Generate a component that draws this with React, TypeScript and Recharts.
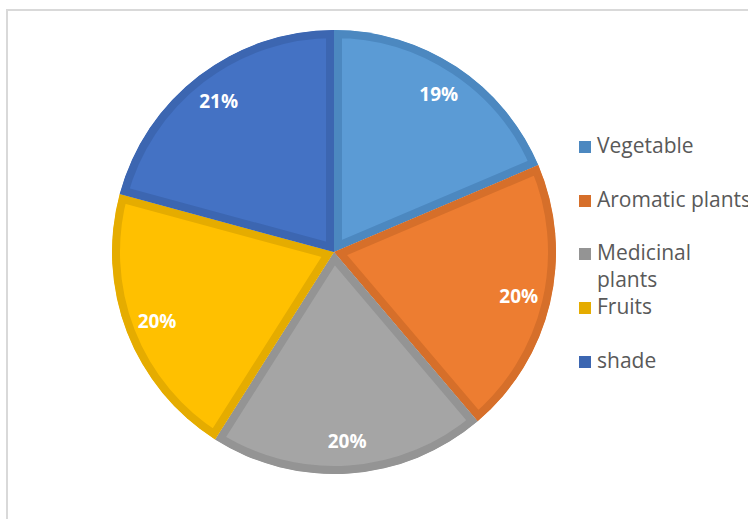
import React from 'react';
import { PieChart, Pie, Sector, Legend } from 'recharts';

const categories = ['Vegetable', 'Aromatic plants', 'Medicinal plants', 'Fruits', 'shade'];
const values = [18.6, 20.2, 20.2, 20.2, 20.8];
const fillColors = ['#5B9BD5', '#ED7D31', '#A5A5A5', '#FFC000', '#4472C4'];
const edgeColors = ['#4C88C0', '#D66F2A', '#949494', '#E5AC00', '#3C66B1'];

const data = categories.map((name, i) => ({ name, value: values[i], fill: fillColors[i], edge: edgeColors[i] }));

const RAD = Math.PI / 180;

const renderShape = (props: any) => {
  const { cx, cy, innerRadius, outerRadius, startAngle, endAngle, index } = props;
  const id = `slice-clip-${index}`;
  return (
    <g>
      <defs>
        <clipPath id={id}>
          <Sector cx={cx} cy={cy} innerRadius={innerRadius} outerRadius={outerRadius} startAngle={startAngle} endAngle={endAngle} />
        </clipPath>
      </defs>
      <Sector
        cx={cx}
        cy={cy}
        innerRadius={innerRadius}
        outerRadius={outerRadius}
        startAngle={startAngle}
        endAngle={endAngle}
        fill={fillColors[index]}
        stroke={edgeColors[index]}
        strokeWidth={16}
        strokeLinejoin="miter"
        clipPath={`url(#${id})`}
      />
    </g>
  );
};

const renderLabel = (props: any) => {
  const { cx, cy, midAngle, outerRadius, percent } = props;
  const r = outerRadius * 0.855;
  const x = cx + r * Math.cos(-midAngle * RAD);
  const y = cy + r * Math.sin(-midAngle * RAD);
  return (
    <text x={x} y={y} fill="#ffffff" textAnchor="middle" dominantBaseline="central"
      style={{ fontFamily: '"Open Sans", sans-serif', fontWeight: 700, fontSize: 19 }}>
      {`${Math.round(percent * 100)}%`}
    </text>
  );
};

const renderLegend = () => (
  <div style={{ position: 'relative', width: 175, height: 260 }}>
    {data.map((d, i) => (
      <div key={d.name} style={{ position: 'absolute', left: 0, top: i * 53.7, display: 'flex', alignItems: 'flex-start' }}>
        <div style={{ width: 12, height: 12, marginTop: 9, background: d.edge, flex: '0 0 auto' }} />
        <div style={{ marginLeft: 6, width: 157, fontFamily: '"Open Sans", sans-serif', fontSize: 21, lineHeight: '27px', color: '#595959' }}>
          {d.name}
        </div>
      </div>
    ))}
  </div>
);

export default function App() {
  return (
    <div style={{ position: 'absolute', left: 0, top: 0, width: 748, height: 519, overflow: 'hidden', background: '#fff' }}>
      <div style={{ position: 'absolute', left: 6, top: 9, width: 900, height: 700, border: '2px solid #D9D9D9', boxSizing: 'border-box' }} />
      <div style={{ position: 'absolute', left: 0, top: 0 }}>
        <PieChart width={748} height={519} margin={{ top: 0, right: 0, bottom: 0, left: 0 }}>
          <Pie
            data={data}
            dataKey="value"
            nameKey="name"
            cx={334}
            cy={252}
            outerRadius={222}
            innerRadius={0}
            startAngle={90}
            endAngle={-270}
            stroke="none"
            shape={renderShape}
            label={renderLabel}
            labelLine={false}
            isAnimationActive={false}
          />
          <Legend content={renderLegend} wrapperStyle={{ position: 'absolute', left: 579, top: 132, width: 175, height: 270 }} />
        </PieChart>
      </div>
    </div>
  );
}
